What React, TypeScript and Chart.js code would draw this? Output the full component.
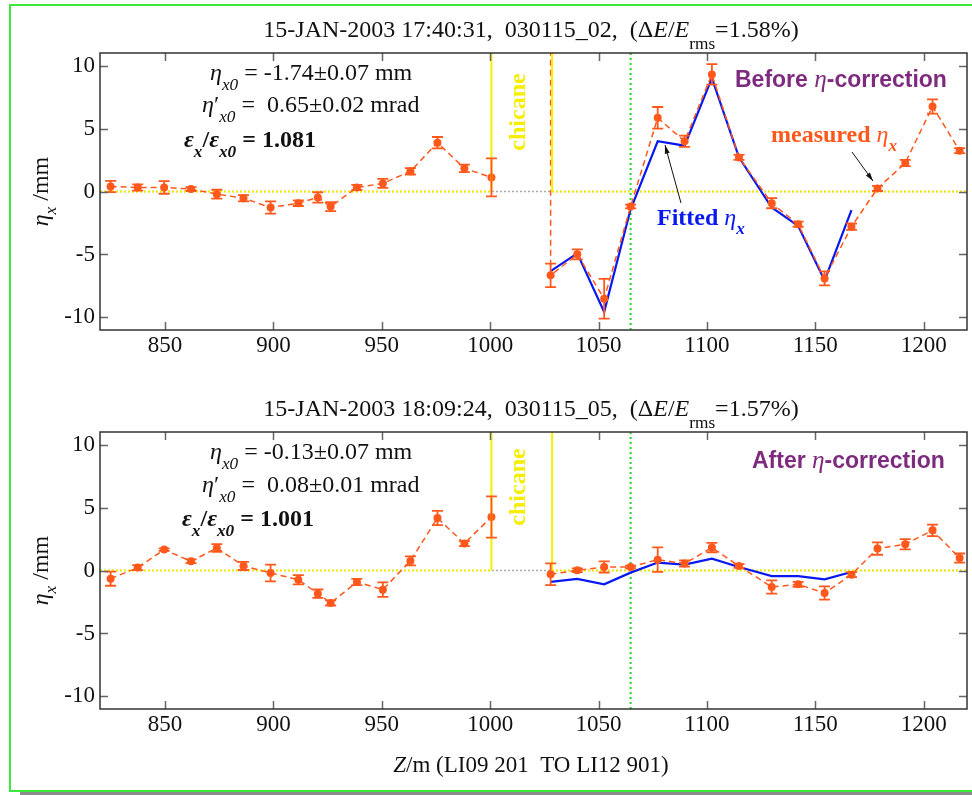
import React, { useEffect, useRef } from "react";
import { Chart, registerables } from "chart.js";

Chart.register(...registerables);

const SERIF = '"Liberation Serif", "Times New Roman", serif';
const SANS = '"Liberation Sans", Arial, sans-serif';

const ORANGE = "#ff581c";
const BLUE = "#0818f0";
const PURPLE = "#7e2a7e";
const YELLOW = "#f5ee00";
const GREEN_DOT = "#1ed81e";
const FRAME_GREEN = "#3be83b";

// BPM positions along the linac (m)
const zLeft = [824.9, 837.4, 849.6, 862.0, 873.9, 886.2, 898.7, 911.5, 920.5, 926.4, 938.5, 950.5, 963.2, 975.7, 988.1, 1000.6];
const zRight = [1027.9, 1040.2, 1052.6, 1064.8, 1077.3, 1089.7, 1102.3, 1114.8, 1129.9, 1142.1, 1154.3, 1166.7, 1178.7, 1191.5, 1204.1, 1216.6];
const zFit = zRight.slice(0, 12);

// Chicane edges and the fit reference point (m)
const chicaneStart = 1000.6;
const chicaneEnd = 1028.6;
const markerZ = 1064.8;
// Off-scale reading at the chicane exit (mm)
const chicaneExitEta = 20;

const xTicks = [850, 900, 950, 1000, 1050, 1100, 1150, 1200];
const yTicks = [-10, -5, 0, 5, 10];
const xMin = 820;
const xMax = 1220;
const yMin = -11;
const yMax = 11;

// Before eta-correction (mm)
const etaBeforeLeft = [0.40, 0.32, 0.32, 0.19, -0.21, -0.53, -1.27, -0.93, -0.47, -1.20, 0.32, 0.64, 1.60, 3.88, 1.84, 1.12];
const errBeforeLeft = [0.45, 0.25, 0.50, 0.15, 0.35, 0.25, 0.48, 0.22, 0.41, 0.36, 0.20, 0.36, 0.25, 0.45, 0.30, 1.51];
const etaBeforeRight = [-6.66, -4.99, -8.52, -1.19, 5.85, 3.99, 9.30, 2.71, -0.93, -2.60, -6.90, -2.79, 0.24, 2.26, 6.75, 3.24];
const errBeforeRight = [0.93, 0.40, 1.58, 0.15, 0.86, 0.44, 0.81, 0.20, 0.40, 0.20, 0.56, 0.25, 0.20, 0.25, 0.57, 0.20];
const fitBefore = [-6.32, -4.91, -9.56, -1.41, 3.99, 3.64, 9.00, 2.71, -1.27, -2.73, -7.06, -1.48];

// After eta-correction (mm)
const etaAfterLeft = [-0.65, 0.23, 1.66, 0.73, 1.79, 0.36, -0.20, -0.73, -1.84, -2.58, -0.91, -1.52, 0.76, 4.17, 2.14, 4.25];
const errAfterLeft = [0.56, 0.20, 0.10, 0.15, 0.30, 0.32, 0.66, 0.37, 0.33, 0.20, 0.25, 0.57, 0.36, 0.56, 0.20, 1.64];
const etaAfterRight = [-0.30, 0.02, 0.28, 0.28, 0.86, 0.55, 1.82, 0.36, -1.31, -1.10, -1.79, -0.33, 1.74, 2.08, 3.19, 0.99];
const errAfterRight = [0.86, 0.15, 0.44, 0.10, 0.97, 0.25, 0.37, 0.15, 0.53, 0.20, 0.53, 0.20, 0.49, 0.41, 0.46, 0.36];
const fitAfter = [-0.91, -0.67, -1.10, -0.17, 0.63, 0.47, 0.94, 0.28, -0.44, -0.44, -0.70, -0.12];

type Seg = { t: string; i?: boolean; b?: boolean; sub?: boolean; sup?: boolean; fam?: string; scale?: number; color?: string };
type RichOpts = { size: number; fam?: string; color?: string; align?: "left" | "center" | "right"; bold?: boolean; subDy?: number };

function fontOf(s: Seg, o: RichOpts) {
  const sz = o.size * (s.scale ?? (s.sub || s.sup ? 0.72 : 1));
  const bold = s.b ?? o.bold ?? false;
  return `${s.i ? "italic " : ""}${bold ? "bold " : ""}${sz}px ${s.fam ?? o.fam ?? SERIF}`;
}

function drawRich(ctx: CanvasRenderingContext2D, segs: Seg[], x: number, y: number, o: RichOpts) {
  ctx.save();
  ctx.textAlign = "left";
  ctx.textBaseline = "alphabetic";
  let total = 0;
  const widths = segs.map((s) => {
    ctx.font = fontOf(s, o);
    const w = ctx.measureText(s.t).width;
    total += w;
    return w;
  });
  let cx = o.align === "center" ? x - total / 2 : o.align === "right" ? x - total : x;
  const subDy = o.subDy ?? o.size * 0.42;
  segs.forEach((s, k) => {
    ctx.font = fontOf(s, o);
    ctx.fillStyle = s.color ?? o.color ?? "#111";
    const dy = s.sub ? subDy : s.sup ? -o.size * 0.35 : 0;
    ctx.fillText(s.t, cx, y + dy);
    cx += widths[k];
  });
  ctx.restore();
}

function arrow(ctx: CanvasRenderingContext2D, x1: number, y1: number, x2: number, y2: number) {
  const a = Math.atan2(y2 - y1, x2 - x1);
  ctx.save();
  ctx.strokeStyle = "#111";
  ctx.fillStyle = "#111";
  ctx.lineWidth = 1;
  ctx.beginPath();
  ctx.moveTo(x1, y1);
  ctx.lineTo(x2, y2);
  ctx.stroke();
  ctx.beginPath();
  ctx.moveTo(x2, y2);
  ctx.lineTo(x2 - 9 * Math.cos(a - 0.28), y2 - 9 * Math.sin(a - 0.28));
  ctx.lineTo(x2 - 9 * Math.cos(a + 0.28), y2 - 9 * Math.sin(a + 0.28));
  ctx.closePath();
  ctx.fill();
  ctx.restore();
}

type Series = { z: number[]; eta: number[]; err: number[] };
type Panel = {
  title: Seg[];
  stats: { x: number; dy: number; segs: Seg[]; bold?: boolean }[];
  tag: { x: number; dy: number; segs: Seg[] };
  left: Series;
  right: Series;
  fit: number[];
  exitSpike: boolean;
  chicaneDy: number;
  padTop: number;
  xH: number;
  height: number;
  top: number;
  xTitle: boolean;
  extras?: (ctx: CanvasRenderingContext2D, top: number) => void;
};

const statLines = (eta0: string, deta0: string, ratio: string, xs: number[], dys: number[]) => [
  { x: xs[0], dy: dys[0], segs: [{ t: "η", i: true }, { t: "x0", i: true, sub: true }, { t: " = " + eta0 + " mm" }] },
  { x: xs[1], dy: dys[1], segs: [{ t: "η", i: true }, { t: "′" }, { t: "x0", i: true, sub: true }, { t: " =  " + deta0 + " mrad" }] },
  {
    x: xs[2],
    dy: dys[2],
    bold: true,
    segs: [{ t: "ε", i: true }, { t: "x", i: true, sub: true }, { t: "/" }, { t: "ε", i: true }, { t: "x0", i: true, sub: true }, { t: " = " + ratio }],
  },
];

const titleSegs = (stamp: string, spread: string): Seg[] => [
  { t: stamp + ",  (Δ" },
  { t: "E", i: true },
  { t: "/" },
  { t: "E", i: true },
  { t: "rms", sub: true },
  { t: "=" + spread + "%)" },
];

const tagSegs = (word: string): Seg[] => [
  { t: word + " ", fam: SANS, b: true },
  { t: "η", fam: SERIF, i: true, scale: 1.1 },
  { t: "-correction", fam: SANS, b: true },
];

const panelBefore: Panel = {
  title: titleSegs("15-JAN-2003 17:40:31,  030115_02", "1.58"),
  stats: statLines("-1.74±0.07", "0.65±0.02", "1.081", [210, 202, 184], [27, 59, 94]),
  tag: { x: 735, dy: 34, segs: tagSegs("Before") },
  left: { z: zLeft, eta: etaBeforeLeft, err: errBeforeLeft },
  right: { z: zRight, eta: etaBeforeRight, err: errBeforeRight },
  fit: fitBefore,
  exitSpike: true,
  chicaneDy: 59,
  padTop: 53,
  xH: 50,
  height: 380,
  top: 0,
  xTitle: false,
  extras: (ctx, top) => {
    drawRich(ctx, [{ t: "measured " }, { t: "η", i: true, b: false }, { t: "x", i: true, sub: true }], 771, top + 89, {
      size: 24,
      bold: true,
      color: ORANGE,
      subDy: 9,
    });
    drawRich(ctx, [{ t: "Fitted " }, { t: "η", i: true, b: false }, { t: "x", i: true, sub: true }], 657, top + 172, {
      size: 24,
      bold: true,
      color: BLUE,
      subDy: 9,
    });
    arrow(ctx, 852, top + 99, 873, top + 128);
    arrow(ctx, 681, top + 150, 665, top + 92);
  },
};

const panelAfter: Panel = {
  title: titleSegs("15-JAN-2003 18:09:24,  030115_05", "1.57"),
  stats: statLines("-0.13±0.07", "0.08±0.01", "1.001", [210, 202, 182], [27, 60, 94]),
  tag: { x: 752, dy: 36, segs: tagSegs("After") },
  left: { z: zLeft, eta: etaAfterLeft, err: errAfterLeft },
  right: { z: zRight, eta: etaAfterRight, err: errAfterRight },
  fit: fitAfter,
  exitSpike: false,
  chicaneDy: 55,
  padTop: 52,
  xH: 86,
  height: 415,
  top: 380,
  xTitle: true,
};

function buildChart(canvas: HTMLCanvasElement, p: Panel) {
  const pts = (s: Series) => s.z.map((z, i) => ({ x: z, y: s.eta[i] }));
  const rightPts = pts(p.right);
  if (p.exitSpike) rightPts.unshift({ x: p.right.z[0], y: chicaneExitEta });

  const overlay = {
    id: "panelOverlay",
    beforeDatasetsDraw(chart: any) {
      const { ctx, chartArea: a, scales } = chart;
      const sx = scales.x;
      const sy = scales.y;
      const y0 = sy.getPixelForValue(0);
      ctx.save();
      // zero line
      ctx.setLineDash([2, 2]);
      ctx.lineWidth = 1.5;
      ctx.strokeStyle = "#aaaaaa";
      ctx.beginPath();
      ctx.moveTo(a.left, y0);
      ctx.lineTo(a.right, y0);
      ctx.stroke();
      ctx.strokeStyle = YELLOW;
      ctx.lineWidth = 2;
      ctx.beginPath();
      ctx.moveTo(sx.getPixelForValue(xMin), y0);
      ctx.lineTo(sx.getPixelForValue(chicaneStart), y0);
      ctx.moveTo(sx.getPixelForValue(chicaneEnd), y0);
      ctx.lineTo(sx.getPixelForValue(xMax), y0);
      ctx.stroke();
      // fit reference marker
      ctx.strokeStyle = GREEN_DOT;
      ctx.setLineDash([2, 3]);
      ctx.beginPath();
      const xm = sx.getPixelForValue(markerZ);
      ctx.moveTo(xm, a.top);
      ctx.lineTo(xm, a.bottom);
      ctx.stroke();
      ctx.restore();
    },
    afterDatasetsDraw(chart: any) {
      const { ctx, chartArea: a, scales } = chart;
      const sx = scales.x;
      const sy = scales.y;
      const y0 = sy.getPixelForValue(0);
      ctx.save();
      ctx.beginPath();
      ctx.rect(a.left, a.top, a.right - a.left, a.bottom - a.top);
      ctx.clip();
      // chicane edges
      ctx.strokeStyle = YELLOW;
      ctx.lineWidth = 2;
      ctx.beginPath();
      for (const z of [chicaneStart, chicaneEnd]) {
        const x = sx.getPixelForValue(z);
        ctx.moveTo(x, a.top);
        ctx.lineTo(x, y0);
      }
      ctx.stroke();
      // error bars
      ctx.strokeStyle = ORANGE;
      ctx.lineWidth = 1.8;
      for (const s of [p.left, p.right]) {
        s.z.forEach((z, i) => {
          const x = sx.getPixelForValue(z);
          const hi = sy.getPixelForValue(s.eta[i] + s.err[i]);
          const lo = sy.getPixelForValue(s.eta[i] - s.err[i]);
          ctx.beginPath();
          ctx.moveTo(x, hi);
          ctx.lineTo(x, lo);
          ctx.moveTo(x - 5.5, hi);
          ctx.lineTo(x + 5.5, hi);
          ctx.moveTo(x - 5.5, lo);
          ctx.lineTo(x + 5.5, lo);
          ctx.stroke();
        });
      }
      ctx.restore();
    },
    afterDraw(chart: any) {
      const { ctx, chartArea: a, scales } = chart;
      const sx = scales.x;
      const sy = scales.y;
      ctx.save();
      // axes box with inward ticks
      ctx.strokeStyle = "#666";
      ctx.lineWidth = 1.5;
      ctx.beginPath();
      for (const v of xTicks) {
        const x = Math.round(sx.getPixelForValue(v)) + 0.5;
        ctx.moveTo(x, a.bottom);
        ctx.lineTo(x, a.bottom - 8);
        ctx.moveTo(x, a.top);
        ctx.lineTo(x, a.top + 8);
      }
      for (const v of yTicks) {
        const y = Math.round(sy.getPixelForValue(v)) + 0.5;
        ctx.moveTo(a.left, y);
        ctx.lineTo(a.left + 8, y);
        ctx.moveTo(a.right, y);
        ctx.lineTo(a.right - 8, y);
      }
      ctx.stroke();
      ctx.strokeStyle = "#333";
      ctx.lineWidth = 1.5;
      ctx.strokeRect(a.left, a.top, a.right - a.left, a.bottom - a.top);
      ctx.restore();

      drawRich(ctx, p.title, 531, a.top - 16, { size: 24, align: "center", subDy: 12 });
      for (const st of p.stats) drawRich(ctx, st.segs, st.x, a.top + st.dy, { size: 24, bold: st.bold, subDy: 10 });
      drawRich(ctx, p.tag.segs, p.tag.x, a.top + p.tag.dy, { size: 23, color: PURPLE });

      // chicane label
      ctx.save();
      ctx.translate(519, a.top + p.chicaneDy);
      ctx.rotate(-Math.PI / 2);
      ctx.font = `bold 24px ${SERIF}`;
      ctx.fillStyle = YELLOW;
      ctx.textAlign = "center";
      ctx.textBaseline = "middle";
      ctx.fillText("chicane", 0, 0);
      ctx.restore();

      // y axis title
      ctx.save();
      ctx.translate(48, (a.top + a.bottom) / 2);
      ctx.rotate(-Math.PI / 2);
      drawRich(ctx, [{ t: "η", i: true }, { t: "x", i: true, sub: true }, { t: " /mm" }], 0, 0, { size: 24, align: "center", subDy: 8 });
      ctx.restore();

      if (p.xTitle) {
        drawRich(ctx, [{ t: "Z", i: true }, { t: "/m (LI09 201  TO LI12 901)" }], 531, a.bottom + 63, {
          size: 23,
          align: "center",
        });
      }
      if (p.extras) p.extras(ctx, a.top);
    },
  };

  const tickFont = { family: SERIF, size: 23 };

  return new Chart(canvas, {
    type: "line",
    data: {
      datasets: [
        {
          data: pts(p.left),
          borderColor: ORANGE,
          backgroundColor: ORANGE,
          borderDash: [6, 4],
          borderWidth: 1.5,
          pointRadius: 4,
          pointBorderWidth: 0,
          pointBackgroundColor: ORANGE,
          tension: 0,
        },
        {
          data: rightPts,
          borderColor: ORANGE,
          backgroundColor: ORANGE,
          borderDash: [6, 4],
          borderWidth: 1.5,
          pointRadius: (c: any) => (c.raw && c.raw.y > yMax ? 0 : 4),
          pointBorderWidth: 0,
          pointBackgroundColor: ORANGE,
          tension: 0,
        },
        {
          data: zFit.map((z, i) => ({ x: z, y: p.fit[i] })),
          borderColor: BLUE,
          borderWidth: 2.2,
          pointRadius: 0,
          tension: 0,
        },
      ],
    },
    options: {
      animation: false,
      responsive: false,
      maintainAspectRatio: false,
      layout: { padding: { top: p.padTop, left: 0, right: 5, bottom: 0 } },
      plugins: { legend: { display: false }, tooltip: { enabled: false }, title: { display: false } },
      scales: {
        x: {
          type: "linear",
          min: xMin,
          max: xMax,
          afterBuildTicks: (s: any) => {
            s.ticks = xTicks.map((v) => ({ value: v }));
          },
          afterFit: (s: any) => {
            s.height = p.xH;
          },
          grid: { display: false, drawTicks: false },
          border: { display: false },
          ticks: { font: tickFont, color: "#111", padding: 2, maxRotation: 0, autoSkip: false, callback: (v: any) => String(v) },
        },
        y: {
          type: "linear",
          min: yMin,
          max: yMax,
          afterBuildTicks: (s: any) => {
            s.ticks = yTicks.map((v) => ({ value: v }));
          },
          afterFit: (s: any) => {
            s.width = 100;
          },
          grid: { display: false, drawTicks: false },
          border: { display: false },
          ticks: { font: tickFont, color: "#111", padding: 5, autoSkip: false, callback: (v: any) => String(v) },
        },
      },
    } as any,
    plugins: [overlay],
  });
}

function PanelChart({ panel }: { panel: Panel }) {
  const ref = useRef<HTMLCanvasElement>(null);
  useEffect(() => {
    const chart = buildChart(ref.current as HTMLCanvasElement, panel);
    return () => chart.destroy();
  }, [panel]);
  return (
    <canvas
      ref={ref}
      width={972}
      height={panel.height}
      style={{ position: "absolute", left: 0, top: panel.top, width: 972, height: panel.height, display: "block" }}
    />
  );
}

export default function App() {
  return (
    <div style={{ position: "absolute", left: 0, top: 0, width: 972, height: 795, overflow: "hidden", background: "#fff" }}>
      <div
        style={{
          position: "absolute",
          left: 9,
          top: 4,
          width: 980,
          height: 784,
          border: `2px solid ${FRAME_GREEN}`,
          boxSizing: "content-box",
        }}
      />
      <div style={{ position: "absolute", left: 20, top: 792, width: 960, height: 3, background: "#8c8c8c" }} />
      <PanelChart panel={panelBefore} />
      <PanelChart panel={panelAfter} />
    </div>
  );
}
